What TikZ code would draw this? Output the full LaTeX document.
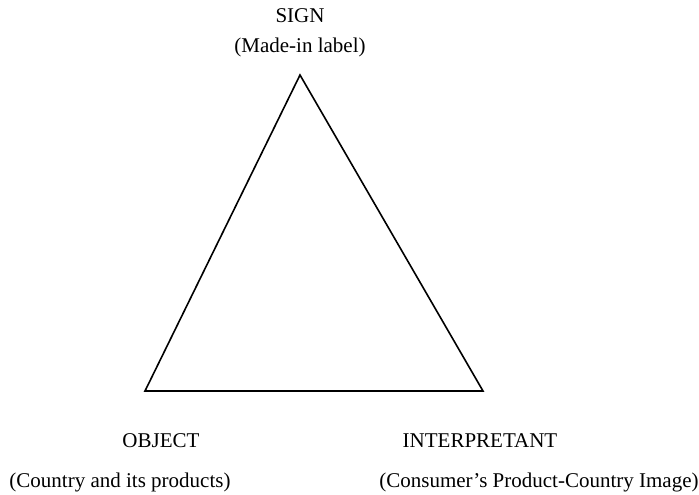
\documentclass[tikz,border=0pt]{standalone}
\usepackage{fontspec}
\setmainfont{Liberation Serif}
\begin{document}
\begin{tikzpicture}[x=1pt,y=-1pt,
  lbl/.style={anchor=base,inner sep=0pt,font=\fontsize{21}{26}\selectfont},
  edge/.style={line width=1.6pt,line join=miter}]
  \useasboundingbox (0,0) rectangle (699,495);
  % the three corners of the semiotic triangle
  \coordinate (sign) at (300,75);
  \coordinate (object) at (145,391);
  \coordinate (interp) at (483,391);
  \draw[edge] (sign) -- (object) -- (interp) -- cycle;
  % corner labels
  \node[lbl] (signT) at (300,23) {SIGN};
  \node[lbl] (signS) at (300,53) {(Made-in label)};
  \node[lbl] (objT) at (161,447) {OBJECT};
  \node[lbl] (objS) at (120,487) {(Country and its products)};
  \node[lbl] (intT) at (480,447) {INTERPRETANT};
  \node[lbl] (intS) at (539,487) {(Consumer’s Product-Country Image)};
\end{tikzpicture}
\end{document}
